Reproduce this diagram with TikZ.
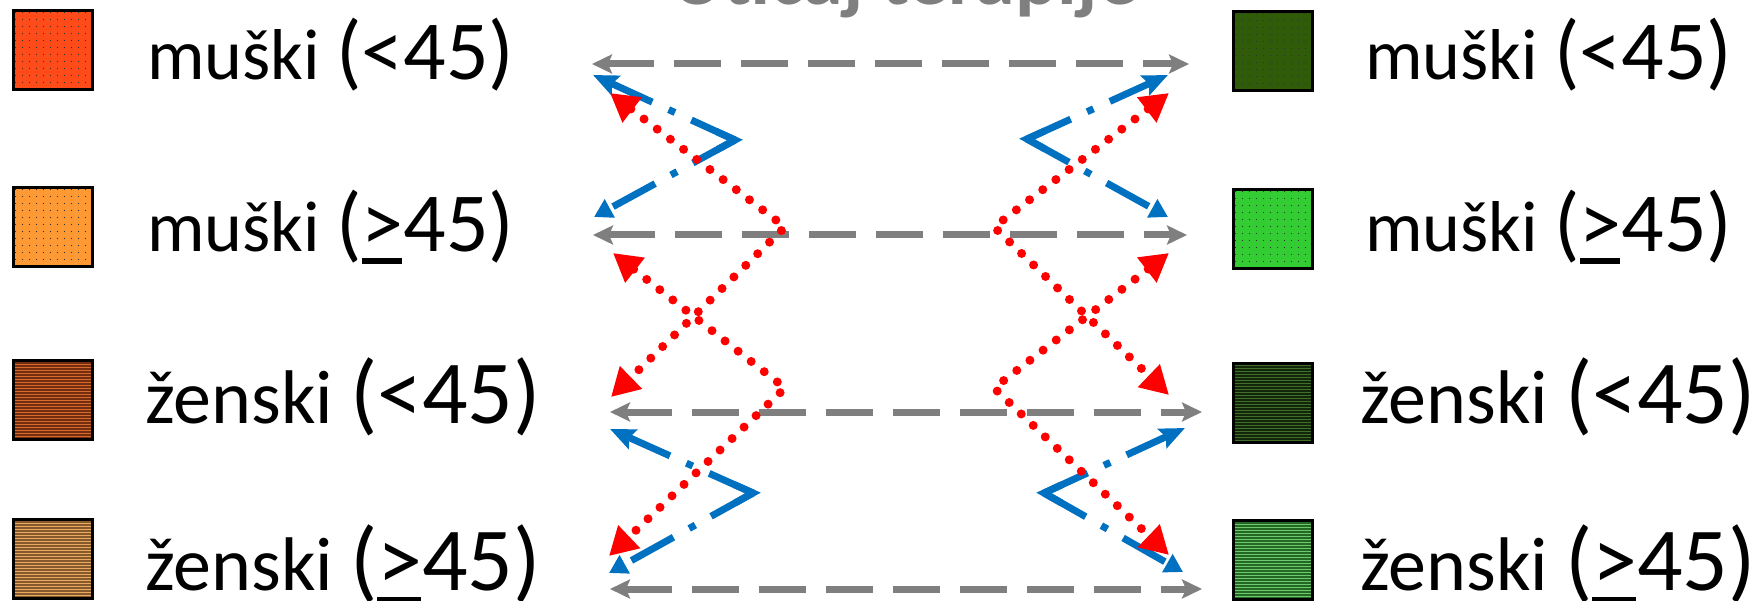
\documentclass[tikz,border=0pt]{standalone}
\usepackage{fontspec}
\setmainfont{Carlito}
\usetikzlibrary{arrows.meta,calc}
\definecolor{gline}{RGB}{127,127,127}
\definecolor{bline}{RGB}{0,112,192}
\definecolor{rline}{RGB}{255,0,0}
\definecolor{cLa}{RGB}{255,75,25}
\definecolor{cLb}{RGB}{255,153,51}
\definecolor{cLc}{RGB}{115,45,15}
\definecolor{cLcs}{RGB}{215,105,45}
\definecolor{cLd}{RGB}{135,90,45}
\definecolor{cLds}{RGB}{235,170,95}
\definecolor{cRa}{RGB}{48,92,10}
\definecolor{cRb}{RGB}{51,204,51}
\definecolor{cRc}{RGB}{18,38,10}
\definecolor{cRcs}{RGB}{65,110,40}
\definecolor{cRd}{RGB}{35,105,35}
\definecolor{cRds}{RGB}{110,200,110}
\newcommand{\gequl}{\makebox[0pt][l]{\rule[-0.14em]{0.48em}{0.065em}}>}
\newcommand{\szmpar}{\fontsize{84}{90}\selectfont}
\newcommand{\szzpar}{\fontsize{90}{96}\selectfont}
\tikzset{
  swatch/.style={draw=black, line width=3pt, minimum width=79pt, minimum height=79pt, inner sep=0pt},
  dotty/.style={path picture={\foreach \xx in {2,9,...,86}{\foreach \yy in {2,9,...,86}{\fill[black!80] ([shift={(\xx pt,-\yy pt)}]path picture bounding box.north west) circle (0.7pt);}}}},
  stripy/.style={path picture={\foreach \yy in {1,4,...,85}{\fill[#1] ([yshift=-\yy pt]path picture bounding box.north west) rectangle ++(90pt,-1.3pt);}}},
  lblm/.style={anchor=base west, inner sep=0pt, font=\fontsize{72}{90}\selectfont},
  lblz/.style={anchor=base west, inner sep=0pt, font=\fontsize{76}{90}\selectfont},
  ttl/.style={anchor=base, inner sep=0pt, text=gline, font=\fontsize{80}{90}\selectfont\bfseries},
  gtip/.tip={Stealth[length=20pt,width=19pt,inset=4pt]},
  butip/.tip={Stealth[length=25pt,width=21pt,inset=4pt]},
  bltip/.tip={Triangle[length=18pt,width=20pt]},
  rtip/.tip={Triangle[length=28pt,width=30pt]},
  grayarr/.style={draw=gline, line width=7pt, dash pattern=on 47pt off 20pt, {gtip}-{gtip}},
  bluedd/.style={draw=bline, line width=7pt, dash pattern=on 48pt off 18pt on 7pt off 18pt},
  bluesolid/.style={draw=bline, line width=7pt, line join=miter},
  reddot/.style={draw=rline, line width=9pt, line cap=round, dash pattern=on 0pt off 16.6pt, {rtip}-{rtip}}
}
\begin{document}
\begin{tikzpicture}[x=1pt,y=-1pt]
\useasboundingbox (0,0) rectangle (1750,601);
% title
\node[ttl] (title) at (905,5) {Utičaj terapije};
% left swatches
\node[swatch, fill=cLa, dotty] (sqL1) at (53,50) {};
\node[swatch, fill=cLb, dotty] (sqL2) at (53,227) {};
\node[swatch, fill=cLc, stripy=cLcs] (sqL3) at (53,399.5) {};
\node[swatch, fill=cLd, stripy=cLds] (sqL4) at (53,558.5) {};
% right swatches
\node[swatch, fill=cRa, dotty] (sqR1) at (1273,51) {};
\node[swatch, fill=cRb, dotty] (sqR2) at (1273,229) {};
\node[swatch, fill=cRc, stripy=cRcs] (sqR3) at (1273,403) {};
\node[swatch, fill=cRd, stripy=cRds] (sqR4) at (1273,559.5) {};
% left labels
\node[lblm] (tL1) at (147,80) {muški {\szmpar(<45)}};
\node[lblm] (tL2) at (147,252) {muški {\szmpar(\gequl45)}};
\node[lblz] (tL3) at (145,423) {ženski {\szzpar(<45)}};
\node[lblz] (tL4) at (145,590) {ženski {\szzpar(\gequl45)}};
% right labels
\node[lblm] (tR1) at (1365,80) {muški {\szmpar(<45)}};
\node[lblm] (tR2) at (1365,252) {muški {\szmpar(\gequl45)}};
\node[lblz] (tR3) at (1360,423) {ženski {\szzpar(<45)}};
\node[lblz] (tR4) at (1360,590) {ženski {\szzpar(\gequl45)}};
% coordinates
\coordinate (g1l) at (592,64);  \coordinate (g1r) at (1189,64);
\coordinate (g2l) at (593,235); \coordinate (g2r) at (1187,235);
\coordinate (g3l) at (610,412); \coordinate (g3r) at (1202,412);
\coordinate (g4l) at (610,589); \coordinate (g4r) at (1202,589);
\coordinate (bTLu) at (593,75);   \coordinate (bTLv) at (735,140);  \coordinate (bTLd) at (594,217);
\coordinate (bTRu) at (1168,75);  \coordinate (bTRv) at (1027,139); \coordinate (bTRd) at (1168,217);
\coordinate (bBLu) at (610,429);  \coordinate (bBLv) at (753,493);  \coordinate (bBLd) at (609,573);
\coordinate (bBRu) at (1185,428); \coordinate (bBRv) at (1044,493); \coordinate (bBRd) at (1183,572);
\coordinate (rA1) at (610,93);   \coordinate (rAv) at (785,227); \coordinate (rA2) at (611,397);
\coordinate (rB1) at (613,253);  \coordinate (rBv) at (785,388); \coordinate (rB2) at (609,556);
\coordinate (rC1) at (1169,93);  \coordinate (rCv) at (994,227); \coordinate (rC2) at (1169,395);
\coordinate (rD1) at (1169,253); \coordinate (rDv) at (994,388); \coordinate (rD2) at (1169,555);
% gray dashed double arrows
\draw[grayarr] (g1l) -- (g1r);
\draw[grayarr] (g2l) -- (g2r);
\draw[grayarr] (g3l) -- (g3r);
\draw[grayarr] (g4l) -- (g4r);
% blue dash-dot bent arrows
\foreach \k in {TL,TR,BL,BR}{
  \draw[bluedd,-{butip}] (b\k v) -- (b\k u);
  \draw[bluedd,-{bltip}] (b\k v) -- (b\k d);
  \draw[bluesolid] ($(b\k v)!20pt!(b\k u)$) -- (b\k v) -- ($(b\k v)!20pt!(b\k d)$);
}
% red dotted bent arrows
\draw[reddot] (rA1) -- (rAv) -- (rA2);
\draw[reddot] (rB1) -- (rBv) -- (rB2);
\draw[reddot] (rC1) -- (rCv) -- (rC2);
\draw[reddot] (rD1) -- (rDv) -- (rD2);
\end{tikzpicture}
\end{document}
